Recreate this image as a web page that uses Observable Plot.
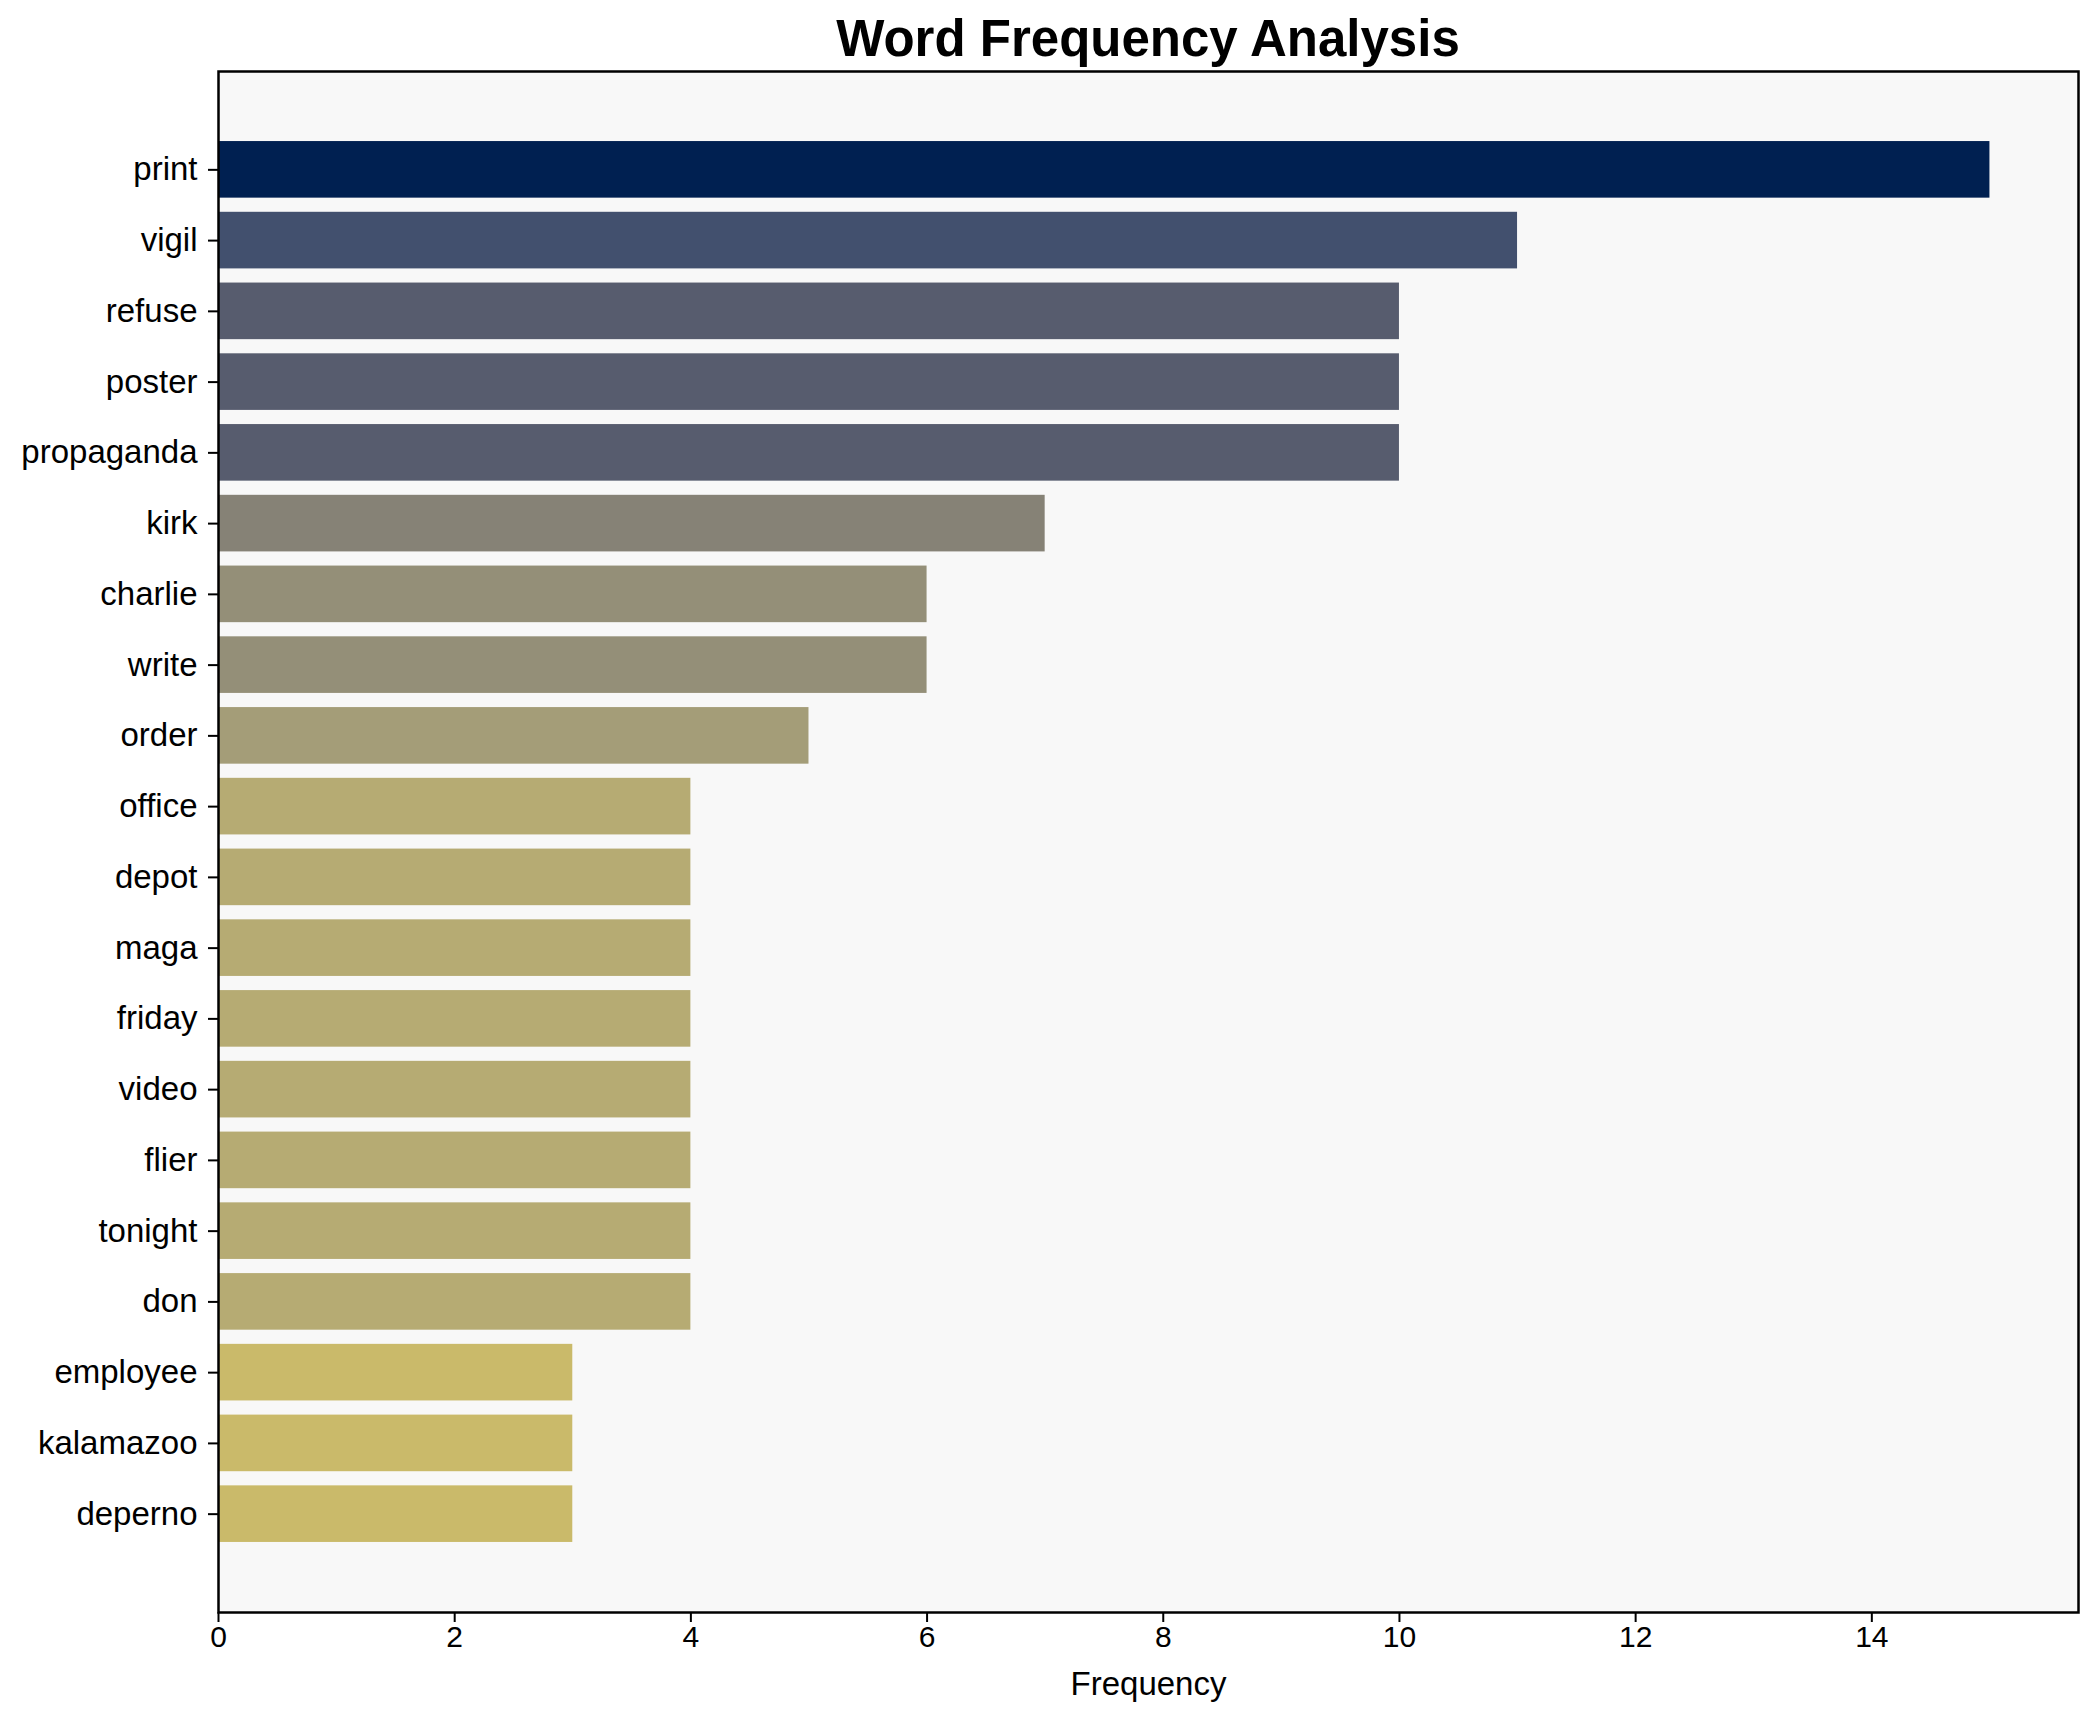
<!DOCTYPE html>
<html>
<head>
<meta charset="utf-8">
<script src="https://cdn.jsdelivr.net/npm/d3@7"></script>
<script src="https://cdn.jsdelivr.net/npm/@observablehq/plot@0.6"></script>
<style>
  html, body { margin: 0; padding: 0; background: #ffffff; }
  body { width: 2097px; height: 1722px; overflow: hidden; font-family: "Liberation Sans", Arial, sans-serif; }
  #title {
    box-sizing: border-box;
    height: 61px;
    padding-left: 218px;
    padding-right: 19px;
    text-align: center;
    font-size: 51px;
    font-weight: bold;
    line-height: 78.6px;
    color: #000;
    white-space: nowrap;
    overflow: visible;
  }
  #chart svg { display: block; }
</style>
</head>
<body>
<div id="title">Word Frequency Analysis</div>
<div id="chart"></div>
<script>
const words = ["print", "vigil", "refuse", "poster", "propaganda", "kirk", "charlie", "write", "order", "office",
               "depot", "maga", "friday", "video", "flier", "tonight", "don", "employee", "kalamazoo", "deperno"];
const frequencies = [15, 11, 10, 10, 10, 7, 6, 6, 5, 4, 4, 4, 4, 4, 4, 4, 4, 3, 3, 3];
const xTicks = [0, 2, 4, 6, 8, 10, 12, 14];
const xLabel = "Frequency";

const data = words.map((w, i) => ({word: w, value: frequencies[i]}));
const maxV = d3.max(frequencies);

const chart = Plot.plot({
  width: 2097,
  height: 1661,
  marginTop: 10,
  marginBottom: 110,
  marginLeft: 218,
  marginRight: 19,
  style: {fontFamily: "'Liberation Sans', Arial, sans-serif", color: "#000", background: "transparent"},
  x: {domain: [0, maxV * 1.05]},
  y: {domain: words, paddingInner: 0.2, paddingOuter: 0.99, align: 0.5, round: false},
  color: {type: "linear", scheme: "cividis", domain: [0, maxV], reverse: true},
  marks: [
    Plot.frame({fill: "#f8f8f8", stroke: null}),
    Plot.barX(data, {x: "value", y: "word", fill: "value"}),
    Plot.axisX({ticks: xTicks, tickSize: 10, tickPadding: 3, fontSize: 30, strokeWidth: 2, label: null, tickFormat: d => String(d)}),
    Plot.axisY({tickSize: 10, tickPadding: 11, fontSize: 33, strokeWidth: 2, label: null}),
    Plot.text([xLabel], {text: d => d, frameAnchor: "bottom", dy: 59, lineAnchor: "top", fontSize: 33, fill: "#000"}),
    Plot.frame({stroke: "#000", strokeWidth: 2.5})
  ]
});
document.getElementById("chart").appendChild(chart);
</script>
</body>
</html>
